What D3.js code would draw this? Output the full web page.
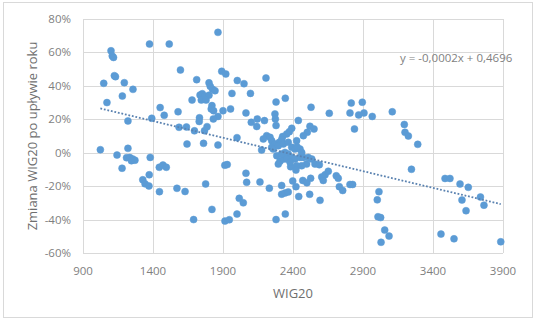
<!DOCTYPE html>
<html><head><meta charset="utf-8">
<script src="https://cdn.jsdelivr.net/npm/d3@7"></script>
<style>body{margin:0;background:#fff}svg{display:block}</style>
</head><body>
<svg id="c" width="536" height="322"></svg>
<script>
const xTicks = [900,1400,1900,2400,2900,3400,3900];
const yTicks = [-60,-40,-20,0,20,40,60,80];
const xTitle = "WIG20";
const yTitle = "Zmiana WIG20 po upływie roku";
const trendSlope = -0.0002;
const trendIntercept = 0.4696;
const trendLabel = "y = -0,0002x + 0,4696";
const wig20 = [
1864,1375,1516,1100,1109,1118,1596,1891,1920,1124,1132,1048,1195,1257,1181,1071,1712,1800,1809,1825,1843,2002,2050,2207,1964,2096,2279,2345,1679,1736,1752,1769,1800,1745,1779,1821,1816,1833,1900,1954,2064,1451,1579,1480,1391,1221,1732,1730,1864,1831,1586,1639,1696,1768,1786,2102,2145,2141,2196,2271,2274,2279,2438,2529,2659,2807,2869,2816,2895,2907,2966,3109,2839,2521,2550,2502,2474,2391,2374,2355,2326,2212,2236,2188,2000,3195,3200,3224,3291,1864,1761,1643,
2248,2271,2302,2319,2176,2248,2259,2295,2331,2366,2426,2391,2414,2450,2462,2366,2391,2414,2450,2474,2509,2534,2557,2588,2497,2462,2426,2383,2421,2284,2307,2331,2295,2355,2379,2343,2319,2428,
1024,1221,1143,1211,1234,1254,1271,1246,1380,1179,1445,1471,1495,1913,1930,1373,1327,1343,1371,1446,1571,1629,1776,1821,1690,1914,1945,2064,2069,2164,2231,2016,2045,2000,2279,2345,2319,2319,2343,2366,2398,2421,2441,2470,2499,2526,2519,2593,2605,2629,2652,2616,2709,2723,2731,2755,2807,2826,3014,3002,3007,3026,3055,3086,3029,3246,3486,3521,3593,3652,3607,3636,3739,3764,3457,3550,3884];
const change = [
72.0,65.0,65.0,61.0,57.9,57.0,49.5,48.7,47.1,46.1,45.5,41.5,41.9,37.9,33.9,30.0,43.7,41.8,39.7,38.0,37.1,43.2,41.3,44.7,35.5,35.5,30.3,32.6,31.5,34.5,35.3,33.8,34.4,31.5,31.5,28.2,26.2,25.1,25.1,26.2,23.8,27.0,24.5,22.4,20.6,19.0,20.9,18.7,21.7,20.2,15.2,15.4,13.1,13.2,15.6,18.2,20.2,15.7,19.2,23.2,20.2,16.3,19.3,27.2,23.6,23.8,22.6,29.7,30.2,23.8,21.7,24.5,14.2,15.8,14.2,12.2,10.2,14.6,12.6,11.2,9.7,10.2,9.2,8.2,9.0,16.9,12.2,10.0,5.0,4.6,5.6,5.2,
7.2,5.2,6.2,7.9,1.6,3.2,2.2,4.2,5.2,6.2,7.2,3.2,2.2,2.2,0.2,-0.8,-2.8,-3.8,-2.8,-2.8,-2.8,-3.8,-6.8,-7.2,-6.8,-7.8,-7.8,-8.4,-10.4,-1.8,-5.1,-3.8,-6.8,-3.8,-5.7,0.2,-0.8,3.6,
1.8,2.6,-1.4,-3.0,-2.9,-3.7,-4.5,-4.8,-2.8,-9.3,-8.7,-7.4,-8.7,-7.5,-7.1,-13.2,-16.2,-18.6,-19.9,-23.3,-21.3,-23.2,-18.7,-33.9,-40.0,-40.9,-40.1,-12.3,-17.7,-17.5,-21.2,-27.3,-30.0,-36.7,-40.0,-36.7,-19.6,-24.8,-24.1,-23.5,-16.9,-20.3,-26.2,-16.6,-18.0,-15.3,-24.9,-28.5,-14.5,-13.2,-11.1,-16.6,-13.8,-15.3,-20.3,-22.6,-19.0,-19.0,-23.3,-28.2,-38.3,-38.8,-46.3,-49.9,-53.6,-9.9,-15.4,-15.4,-18.7,-20.7,-28.3,-34.7,-26.5,-31.4,-48.7,-51.5,-53.3];

const svg = d3.select("#c");
const font = "'Open Sans', 'Liberation Sans', sans-serif";
const m = {l:83, t:19, w:420, h:234};

svg.append("rect").attr("x",3.5).attr("y",2.5).attr("width",529).attr("height",315)
  .attr("fill","#fff").attr("stroke","#d9d9d9");

const x = d3.scaleLinear().domain([900,3900]).range([m.l, m.l+m.w]);
const y = d3.scaleLinear().domain([-60,80]).range([m.t+m.h, m.t]);

const g = svg.append("g");
g.selectAll("line.gx").data(xTicks).join("line")
  .attr("x1",d=>Math.round(x(d))+0.5).attr("x2",d=>Math.round(x(d))+0.5)
  .attr("y1",m.t).attr("y2",m.t+m.h).attr("stroke","#d9d9d9");
g.selectAll("line.gy").data(yTicks).join("line")
  .attr("y1",d=>Math.round(y(d))+0.5).attr("y2",d=>Math.round(y(d))+0.5)
  .attr("x1",m.l).attr("x2",m.l+m.w).attr("stroke","#d9d9d9");

g.selectAll("text.xt").data(xTicks).join("text")
  .attr("x",d=>x(d)).attr("y",m.t+m.h+22).attr("text-anchor","middle")
  .attr("font-family",font).attr("font-size",11.5).attr("fill","#7f7f7f").text(d=>d);
g.selectAll("text.yt").data(yTicks).join("text")
  .attr("x",m.l-12).attr("y",d=>y(d)+4).attr("text-anchor","end")
  .attr("font-family",font).attr("font-size",11.5).attr("fill","#7f7f7f").text(d=>d+"%");

svg.append("text").attr("x",x(2400)).attr("y",298).attr("text-anchor","middle")
  .attr("font-family",font).attr("font-size",13).attr("fill","#6f6f6f").text(xTitle);
svg.append("text").attr("transform",`translate(37,${m.t+m.h/2}) rotate(-90)`)
  .attr("text-anchor","middle").attr("font-family",font).attr("font-size",13)
  .attr("fill","#6f6f6f").text(yTitle);

const pts = wig20.map((v,i)=>({x:v,y:change[i]}));
svg.append("g").selectAll("circle").data(pts).join("circle")
  .attr("cx",d=>x(d.x)).attr("cy",d=>y(d.y)).attr("r",3.5)
  .attr("fill","#5b9bd5").attr("stroke","#5b9bd5").attr("stroke-width",0.5);

const xMin = d3.min(wig20), xMax = d3.max(wig20);
svg.append("line")
  .attr("x1",x(xMin)).attr("y1",y((trendSlope*xMin+trendIntercept)*100))
  .attr("x2",x(xMax)).attr("y2",y((trendSlope*xMax+trendIntercept)*100))
  .attr("stroke","#5a82b0").attr("stroke-width",1.8).attr("stroke-dasharray","1.8,1.8");

svg.append("text").attr("x",400).attr("y",62).attr("font-family",font).attr("font-size",11.5)
  .attr("fill","#7f7f7f").text(trendLabel);
</script>
</body></html>
